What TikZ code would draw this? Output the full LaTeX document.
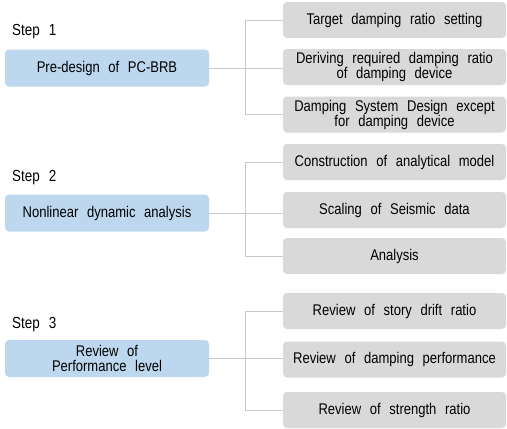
\documentclass[tikz,border=0pt]{standalone}
\usepackage{fontspec}
\setmainfont{Liberation Sans}[FakeStretch=0.84,WordSpace=2.4]
\definecolor{bluebox}{HTML}{BDD7EE}
\definecolor{graybox}{HTML}{D9D9D9}
\definecolor{linegray}{HTML}{C8C8C8}
\begin{document}
\begin{tikzpicture}[x=1pt,y=1pt,
  stepbox/.style={fill=bluebox,rounded corners=4pt,minimum width=204pt,minimum height=37pt,align=center,inner sep=0pt,font=\fontsize{15.5}{15}\selectfont},
  subbox/.style={fill=graybox,rounded corners=4pt,minimum width=223pt,minimum height=36pt,align=center,inner sep=0pt,font=\fontsize{15.5}{15}\selectfont},
  steplabel/.style={anchor=west,inner sep=0pt,font=\fontsize{16}{17}\selectfont},
  conn/.style={draw=linegray,line width=0.8pt}]
\useasboundingbox (0,0) rectangle (507,-429);
% Step 1
\node[steplabel] (s1) at (12,-32) {Step 1};
\node[stepbox] (b1) at (107,-68) {Pre-design of PC-BRB};
\node[subbox] (g11) at (394.5,-20) {Target damping ratio setting};
\node[subbox] (g12) at (394.5,-67) {Deriving required damping ratio\\of damping device};
\node[subbox] (g13) at (394.5,-114.5) {Damping System Design except\\for damping device};
\coordinate (j1) at (245,-68);
\draw[conn] (b1.east) -- (b1.east -| g12.west);
\draw[conn] (g11.west) -- (g11.west -| j1) -- (g13.west -| j1) -- (g13.west);
% Step 2
\node[steplabel] (s2) at (12,-178) {Step 2};
\node[stepbox] (b2) at (107,-213) {Nonlinear dynamic analysis};
\node[subbox] (g21) at (394.5,-162) {Construction of analytical model};
\node[subbox] (g22) at (394.5,-210) {Scaling of Seismic data};
\node[subbox] (g23) at (394.5,-256) {Analysis};
\coordinate (j2) at (245,-212);
\draw[conn] (b2.east) -- (b2.east -| g22.west);
\draw[conn] (g21.west) -- (g21.west -| j2) -- (g23.west -| j2) -- (g23.west);
% Step 3
\node[steplabel] (s3) at (12,-325) {Step 3};
\node[stepbox] (b3) at (107,-358.5) {Review of\\Performance level};
\node[subbox] (g31) at (394.5,-311) {Review of story drift ratio};
\node[subbox] (g32) at (394.5,-359.5) {Review of damping performance};
\node[subbox] (g33) at (394.5,-410) {Review of strength ratio};
\coordinate (j3) at (245,-360);
\draw[conn] (b3.east) -- (b3.east -| g32.west);
\draw[conn] (g31.west) -- (g31.west -| j3) -- (g33.west -| j3) -- (g33.west);
\end{tikzpicture}
\end{document}
